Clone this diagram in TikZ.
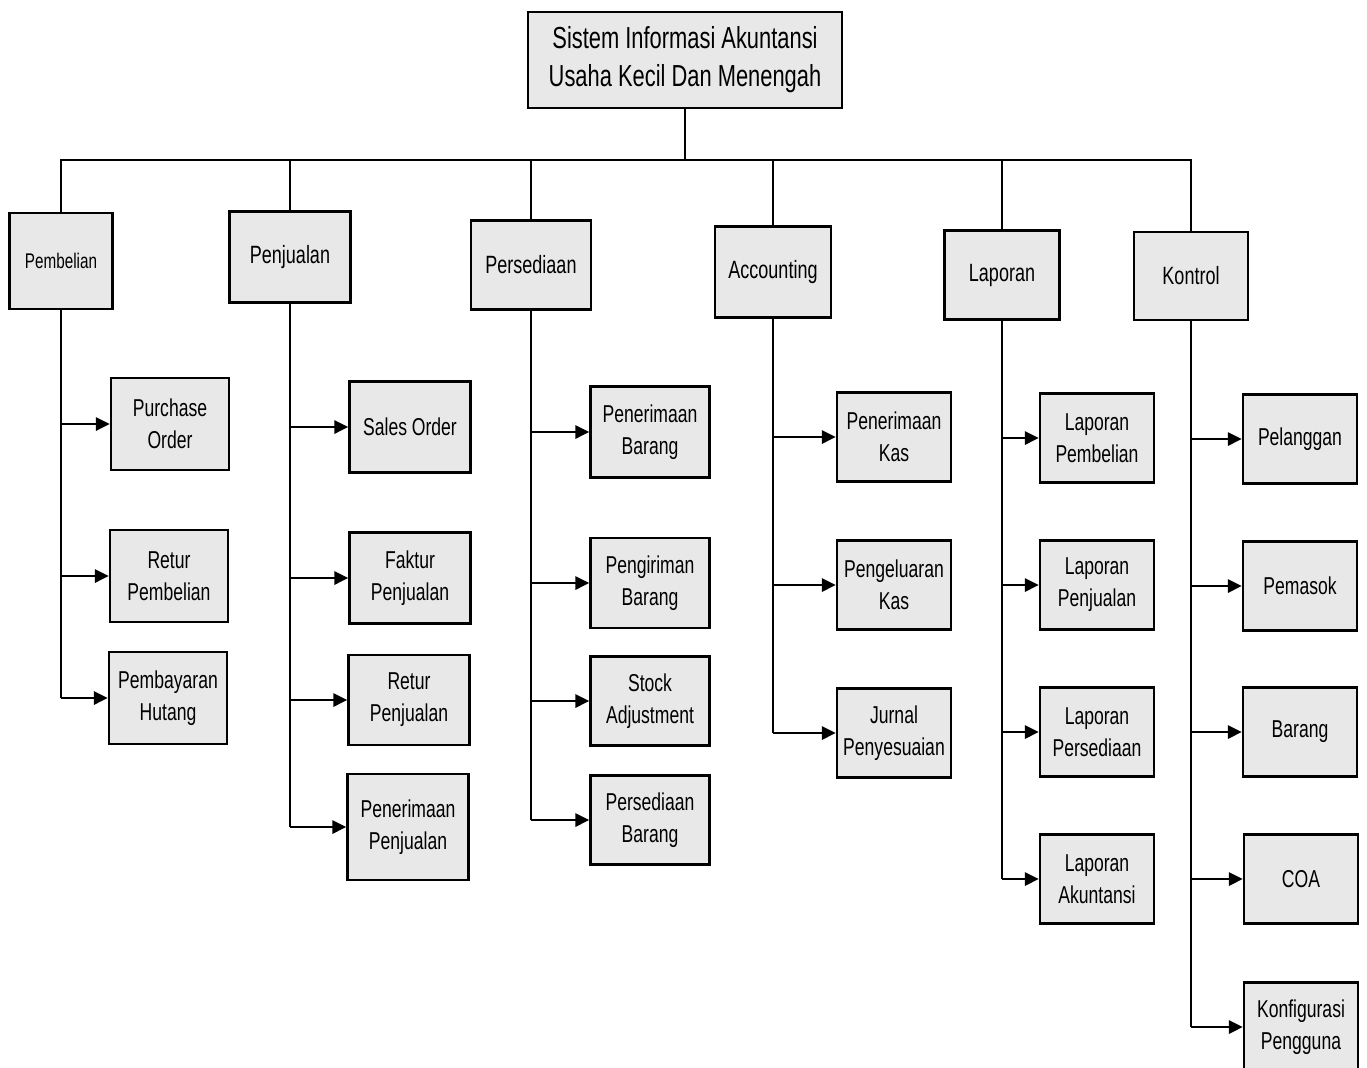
\documentclass[tikz,border=0pt]{standalone}
\usepackage{fontspec}
\setmainfont{Liberation Sans}[FakeStretch=0.72]
\usetikzlibrary{arrows.meta}
\definecolor{boxfill}{RGB}{232,232,232}
\begin{document}
\begin{tikzpicture}[x=0.5pt,y=-0.5pt,
  box/.style={draw=black, line width=1.1pt, fill=boxfill, align=center, inner sep=2pt},
  head/.style={box, minimum width=58pt, minimum height=45pt, font=\fontsize{12.5}{16}\selectfont},
  kid/.style={box, minimum width=57pt, minimum height=44.5pt, font=\fontsize{12.2}{16}\selectfont},
  link/.style={line width=1.4pt},
  feed/.style={link, -{Triangle[length=7pt,width=6.5pt]}}]
\fill[white] (0,0) rectangle (1367,1067);
\useasboundingbox (0,0) rectangle (1367,1067);

% root
\node[box, minimum width=157pt, minimum height=48pt, font=\fontsize{15.2}{19}\selectfont] (sia) at (685,60)
  {Sistem Informasi Akuntansi\\Usaha Kecil Dan Menengah};

% modules
\node[head, minimum width=51.5pt, minimum height=48pt, font=\fontsize{10.6}{14}\selectfont] (pem) at (61,261) {Pembelian};
\node[head, minimum width=60.5pt, minimum height=45.5pt] (pnj) at (290,257) {Penjualan};
\node[head, minimum width=60pt, minimum height=44.5pt] (psd) at (531,265) {Persediaan};
\node[head, minimum width=58pt, minimum height=45.5pt] (acc) at (773,272) {Accounting};
\node[head, minimum width=57.5pt, minimum height=44.5pt] (lap) at (1002,275) {Laporan};
\node[head, minimum width=57pt, minimum height=44pt] (kon) at (1191,276) {Kontrol};

% Pembelian
\node[kid, minimum width=59pt, minimum height=46pt] (po)  at (170,424) {Purchase\\Order};
\node[kid, minimum width=59pt, minimum height=46pt] (rpb) at (169,576) {Retur\\Pembelian};
\node[kid, minimum width=59pt, minimum height=46pt] (hut) at (168,698) {Pembayaran\\Hutang};

% Penjualan
\node[kid, minimum width=60.5pt, minimum height=45.5pt] (so)  at (410,427) {Sales Order};
\node[kid, minimum width=60.5pt, minimum height=45.5pt] (fpj) at (410,578) {Faktur\\Penjualan};
\node[kid, minimum width=60.5pt, minimum height=45pt] (rpj) at (409,700) {Retur\\Penjualan};
\node[kid, minimum width=60.5pt, minimum height=53pt] (tpj) at (408,827) {Penerimaan\\Penjualan};

% Persediaan
\node[kid, minimum width=59.5pt, minimum height=45.5pt] (tbr) at (650,432) {Penerimaan\\Barang};
\node[kid, minimum width=59.5pt, minimum height=45pt] (kbr) at (650,583) {Pengiriman\\Barang};
\node[kid, minimum width=59.5pt, minimum height=44.5pt] (adj) at (650,701) {Stock\\Adjustment};
\node[kid, minimum width=59.5pt, minimum height=44.5pt] (sbr) at (650,820) {Persediaan\\Barang};

% Accounting
\node[kid] (tks) at (894,437) {Penerimaan\\Kas};
\node[kid] (kks) at (894,585) {Pengeluaran\\Kas};
\node[kid] (jps) at (894,733) {Jurnal\\Penyesuaian};

% Laporan
\node[kid] (lpb) at (1097,438) {Laporan\\Pembelian};
\node[kid] (lpj) at (1097,585) {Laporan\\Penjualan};
\node[kid] (lps) at (1097,732) {Laporan\\Persediaan};
\node[kid] (lak) at (1097,879) {Laporan\\Akuntansi};

% Kontrol
\node[kid] (plg) at (1300,439) {Pelanggan};
\node[kid] (pms) at (1300,586) {Pemasok};
\node[kid] (brg) at (1300,732) {Barang};
\node[kid] (coa) at (1301,879) {COA};
\node[kid] (kfg) at (1301,1027) {Konfigurasi\\Pengguna};

% root to modules
\coordinate (bus) at (685,160);
\draw[link] (sia.south) -- (bus);
\draw[link] (pem.north) -- (pem.north |- bus) -- (kon.north |- bus) -- (kon.north);
\foreach \m in {pnj,psd,acc,lap}
  \draw[link] (\m.north |- bus) -- (\m.north);

% module trunks and feeds
\draw[link] (pem.south) -- (pem.south |- hut.west);
\foreach \c in {po,rpb,hut} \draw[feed] (pem.south |- \c.west) -- (\c.west);

\draw[link] (pnj.south) -- (pnj.south |- tpj.west);
\foreach \c in {so,fpj,rpj,tpj} \draw[feed] (pnj.south |- \c.west) -- (\c.west);

\draw[link] (psd.south) -- (psd.south |- sbr.west);
\foreach \c in {tbr,kbr,adj,sbr} \draw[feed] (psd.south |- \c.west) -- (\c.west);

\draw[link] (acc.south) -- (acc.south |- jps.west);
\foreach \c in {tks,kks,jps} \draw[feed] (acc.south |- \c.west) -- (\c.west);

\draw[link] (lap.south) -- (lap.south |- lak.west);
\foreach \c in {lpb,lpj,lps,lak} \draw[feed] (lap.south |- \c.west) -- (\c.west);

\draw[link] (kon.south) -- (kon.south |- kfg.west);
\foreach \c in {plg,pms,brg,coa,kfg} \draw[feed] (kon.south |- \c.west) -- (\c.west);
\end{tikzpicture}
\end{document}
